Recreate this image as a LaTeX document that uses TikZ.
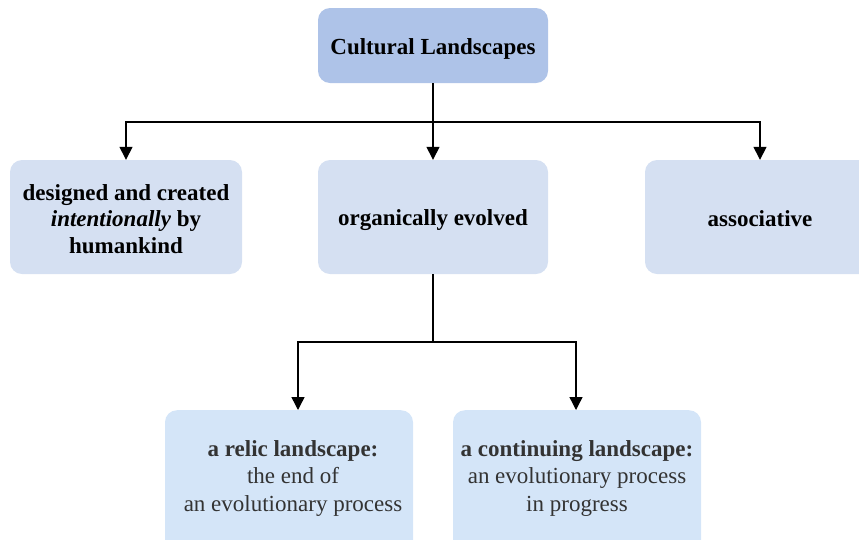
\documentclass[tikz,border=0pt]{standalone}
\usepackage{fontspec}
\setmainfont{Liberation Serif}
\usetikzlibrary{arrows.meta}
\definecolor{topfill}{HTML}{AEC3E8}
\definecolor{midfill}{HTML}{D5E0F2}
\definecolor{lowfill}{HTML}{D4E5F8}
\definecolor{lowtext}{HTML}{333333}
\tikzset{
  box/.style={draw=none, rounded corners=12pt, inner sep=0pt},
  topbox/.style={box, fill=topfill, minimum width=230pt, minimum height=75pt},
  midbox/.style={box, fill=midfill, minimum width=232pt, minimum height=114pt},
  lowbox/.style={box, fill=lowfill, minimum width=248pt, minimum height=150pt},
  btxt/.style={align=center, inner sep=0pt, font=\fontsize{23}{26.5}\selectfont\bfseries},
  lowtxt/.style={align=center, inner sep=0pt, text=lowtext, font=\fontsize{23}{27.5}\selectfont},
  conn/.style={line width=1.4pt, draw=black},
  arr/.style={conn, -{Triangle[length=13pt,width=13pt]}}
}
\begin{document}
\begin{tikzpicture}[x=1pt,y=-1pt]
\useasboundingbox (0,0) rectangle (859,539);
\clip (0,0) rectangle (859,539);
\node[topbox] (top) at (433,45.5) {};
\node[btxt] (topt) at (433,48.5) {Cultural Landscapes};
\node[midbox] (des) at (126,217) {};
\node[btxt] (dest) at (126,219) {designed and created\\\textit{intentionally} by\\humankind};
\node[midbox, minimum width=230pt] (org) at (433,217) {};
\node[btxt] (orgt) at (433,220) {organically evolved};
\node[midbox, minimum width=230pt] (ass) at (760,217) {};
\node[btxt] (asst) at (760,219) {associative};
\node[lowbox, anchor=north] (rel) at (289,410) {};
\node[lowbox, anchor=north] (con) at (577,410) {};
\node[lowtxt] (relt) at (293,478) {\textbf{a relic landscape:}\\the end of\\an evolutionary process};
\node[lowtxt] (cont) at (577,478) {\textbf{a continuing landscape:}\\an evolutionary process\\in progress};
\coordinate (j1) at (433,122);
\coordinate (j2) at (433,342);
\draw[conn] (top.south) -- (j1);
\draw[arr] (j1) -| (des.north);
\draw[arr] (j1) -- (org.north);
\draw[arr] (j1) -| (ass.north);
\draw[conn] (org.south) -- (j2);
\draw[arr] (j2) -| ([xshift=9pt]rel.north);
\draw[arr] (j2) -| ([xshift=-1pt]con.north);
\end{tikzpicture}
\end{document}
